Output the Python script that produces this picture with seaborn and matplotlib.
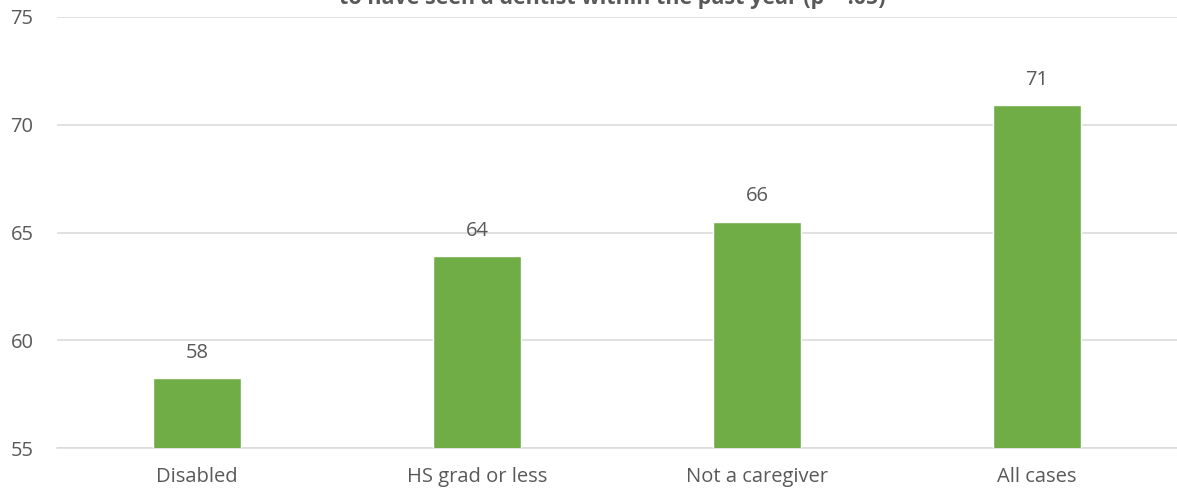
import pandas as pd
import seaborn as sns
import matplotlib.pyplot as plt

categories = ['Disabled', 'HS grad or less', 'Not a caregiver', 'All cases']
values = [58.25, 63.9, 65.5, 70.9]
value_labels = ['58', '64', '66', '71']
y_ticks = [55, 60, 65, 70, 75]
title_text = 'to have seen a dentist within the past year (p = .05)'

df = pd.DataFrame({'Group': categories, 'Percent': values})

sns.set_style('white')
plt.rcParams['font.family'] = ['Open Sans', 'DejaVu Sans']
text_color = '#595959'

fig = plt.figure(figsize=(11.77, 4.93), dpi=100)
ax = fig.add_axes([57 / 1177, 45 / 493, 1120 / 1177, 431 / 493])

sns.barplot(x='Group', y='Percent', data=df, ax=ax, color='#70ad47',
            width=0.315, saturation=1, zorder=3)

ax.set_ylim(55, 75)
ax.set_yticks(y_ticks)
ax.set_xlim(-0.5, len(categories) - 0.5)
ax.yaxis.grid(True, color='#d9d9d9', linewidth=1.1, zorder=0)
ax.xaxis.grid(False)
for side in ['top', 'right', 'left']:
    ax.spines[side].set_visible(False)
ax.spines['bottom'].set_color('#d9d9d9')
ax.spines['bottom'].set_linewidth(1.1)
ax.tick_params(axis='both', length=0, labelsize=14.5, colors=text_color)
ax.tick_params(axis='x', pad=14)
ax.tick_params(axis='y', pad=17)
ax.set_xlabel('')
ax.set_ylabel('')

for i, (v, lab) in enumerate(zip(values, value_labels)):
    ax.annotate(lab, (i, v), xytext=(0, 11), textcoords='offset points',
                ha='center', va='bottom', fontsize=14.5, color=text_color)

fig.text(612 / 1177, 1 - 4 / 493, title_text, ha='center', va='baseline',
         fontsize=15.5, fontweight='bold', color=text_color)

plt.savefig('out.png', dpi=100)
